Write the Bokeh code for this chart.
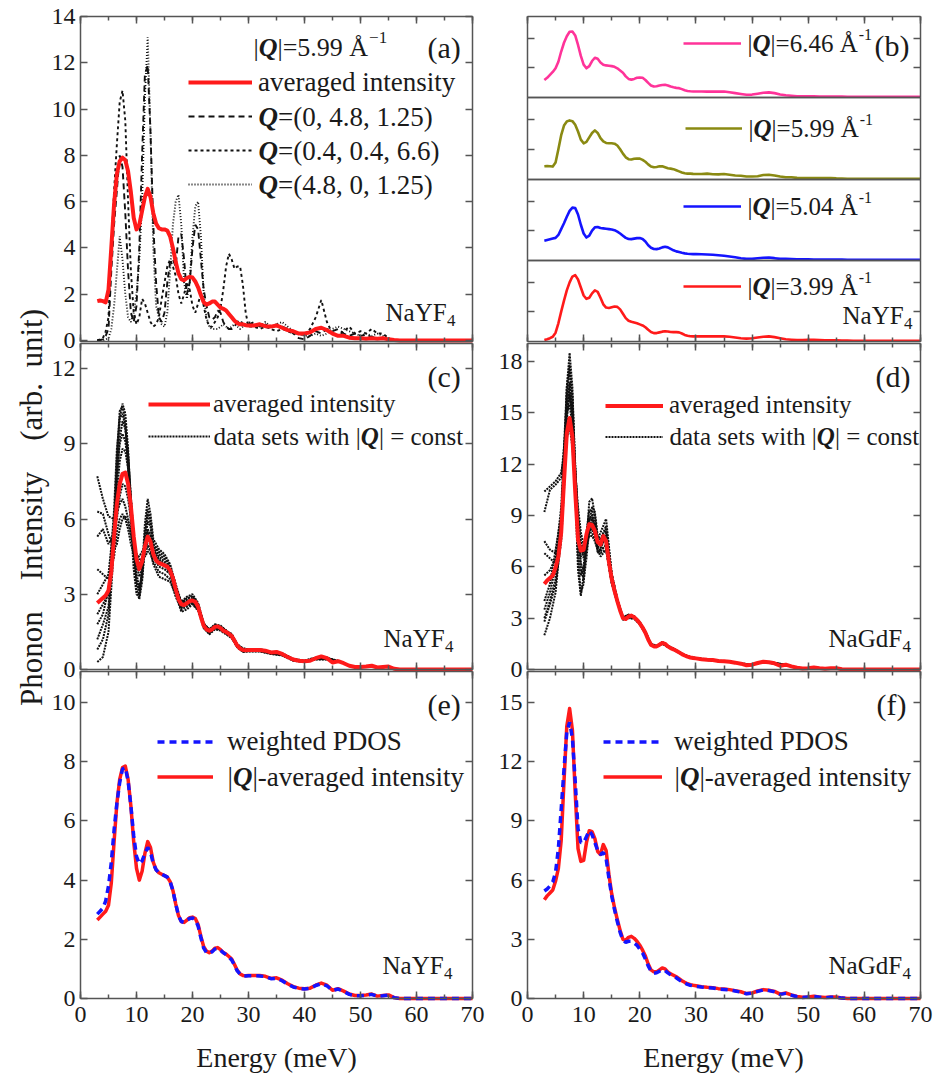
from bokeh.plotting import figure
from bokeh.models import (Range1d, LinearAxis, SingleIntervalTicker, FixedTicker,
                          Legend, LegendItem, Label, CustomJSTickFormatter)
from bokeh.core.properties import value
from bokeh.layouts import row
from bokeh.embed import file_html
from bokeh.resources import INLINE

# ---------------- data ----------------
energy = [3.0, 3.5, 4.0, 4.5, 5.0, 5.5, 6.0, 6.5, 7.0, 7.5,
          8.0, 8.5, 9.0, 9.5, 10.0, 10.5, 11.0, 11.5, 12.0, 12.5,
          13.0, 13.5, 14.0, 14.5, 15.0, 15.5, 16.0, 16.5, 17.0, 17.5,
          18.0, 18.5, 19.0, 19.5, 20.0, 20.5, 21.0, 21.5, 22.0, 22.5,
          23.0, 23.5, 24.0, 24.5, 25.0, 25.5, 26.0, 26.5, 27.0, 27.5,
          28.0, 28.5, 29.0, 29.5, 30.0,
          31, 32, 33, 34, 35, 36, 37, 38, 39, 40,
          41, 42, 43, 44, 45, 46, 47, 48, 49, 50,
          51, 52, 53, 54, 55, 56, 57, 58, 59, 60,
          65, 70]

# (a) |Q| = 5.99 averaged intensity (also olive curve in (b))
q599_avg = [1.7, 1.73, 1.7, 1.65, 2.2, 4.0, 5.9, 7.2, 7.75, 7.9,
            7.8, 7.3, 6.4, 5.3, 4.8, 5.0, 5.6, 6.2, 6.55, 6.2,
            5.5, 5.05, 4.85, 4.8, 4.8, 4.75, 4.5, 4.0, 3.4, 2.9,
            2.65, 2.6, 2.7, 2.75, 2.72, 2.55, 2.3, 1.95, 1.65, 1.55,
            1.6, 1.68, 1.68, 1.55, 1.42, 1.37, 1.3, 1.15, 1.0, 0.85,
            0.75, 0.7, 0.7, 0.66, 0.65,
            0.65, 0.70, 0.62, 0.60, 0.65, 0.55, 0.45, 0.40, 0.30, 0.30,
            0.35, 0.50, 0.55, 0.45, 0.30, 0.20, 0.20, 0.12, 0.10, 0.10,
            0.08, 0.10, 0.08, 0.10, 0.05, 0.02, 0, 0, 0, 0,
            0, 0]

q_0_48_125 = [0.0, 0.02, 0.05, 0.2, 0.5, 3.0, 5.0, 6.5, 8.0, 7.5,
              5.5, 3.0, 1.2, 0.8, 1.5, 4.0, 8.0, 11.5, 11.9, 9.0,
              5.0, 2.5, 1.0, 0.8, 1.2, 2.5, 3.4, 3.5, 3.2, 4.5,
              4.6, 3.5, 2.0, 2.5, 4.0, 5.0, 4.8, 3.5, 2.2, 1.5,
              1.0, 0.9, 1.0, 1.3, 1.2, 0.8, 0.6, 0.5, 0.5, 0.6,
              0.8, 0.9, 0.7, 0.6, 0.7,
              0.8, 0.6, 0.7, 0.5, 0.7, 0.6, 0.5, 0.3, 0.1, 0.05,
              0.2, 0.4, 0.3, 0.5, 0.4, 0.5, 0.3, 0.2, 0.3, 0.2,
              0.25, 0.15, 0.1, 0.1, 0.05, 0, 0, 0, 0, 0,
              0, 0]

q_04_04_66 = [0.0, 0.05, 0.1, 0.4, 1.0, 4.0, 6.5, 8.5, 10.3, 10.8,
              9.5, 6.0, 3.0, 1.2, 0.7, 1.0, 1.8, 1.6, 1.2, 0.8,
              0.6, 0.7, 1.0, 1.8, 2.5, 3.2, 3.5, 3.2, 2.8, 2.0,
              1.6, 2.0, 2.5, 2.2, 1.5, 1.2, 1.6, 2.0, 1.5, 0.9,
              0.6, 0.6, 0.8, 1.0, 1.4, 2.2, 3.2, 3.75, 3.5, 3.1,
              3.2, 3.2, 2.4, 1.2, 0.6,
              0.6, 0.5, 0.6, 0.5, 0.4, 0.5, 0.4, 0.3, 0.3, 0.2,
              0.5, 1.0, 1.75, 0.8, 0.3, 0.2, 0.4, 0.6, 0.3, 0.4,
              0.3, 0.5, 0.3, 0.3, 0.1, 0, 0, 0, 0, 0,
              0, 0]

q_48_0_125 = [0.0, 0.0, 0.0, 0.05, 0.1, 0.5, 1.5, 3.0, 4.5, 3.5,
              2.0, 1.0, 0.8, 1.2, 2.0, 3.5, 6.0, 10.5, 13.1, 9.0,
              4.0, 1.5, 1.0, 0.7, 0.6, 1.2, 3.0, 5.0, 6.0, 6.3,
              5.0, 2.5, 1.8, 2.5, 4.5, 5.8, 6.0, 4.5, 2.0, 1.0,
              0.6, 0.5, 0.5, 0.5, 0.6, 0.7, 0.6, 0.5, 0.6, 0.7,
              0.6, 0.5, 0.6, 0.7, 0.8,
              0.7, 0.6, 0.8, 0.6, 0.7, 0.8, 0.6, 0.4, 0.3, 0.2,
              0.2, 0.3, 0.2, 0.3, 0.5, 0.6, 0.5, 0.4, 0.3, 0.2,
              0.3, 0.2, 0.3, 0.2, 0.1, 0, 0, 0, 0, 0,
              0, 0]

# (b) other |Q| values
q646_avg = [2.3, 2.6, 3.0, 3.4, 3.9, 4.8, 6.2, 7.4, 8.3, 8.9,
            8.95, 8.4, 7.1, 5.6, 4.4, 3.9, 4.2, 4.9, 5.35, 5.2,
            4.7, 4.4, 4.3, 4.25, 4.2, 4.1, 3.9, 3.6, 3.3, 2.8,
            2.45, 2.35, 2.45, 2.6, 2.65, 2.6, 2.3, 1.9, 1.55, 1.4,
            1.45, 1.55, 1.62, 1.64, 1.55, 1.4, 1.3, 1.22, 1.18, 1.05,
            0.9, 0.8, 0.75, 0.73, 0.72,
            0.72, 0.70, 0.72, 0.70, 0.73, 0.62, 0.50, 0.38, 0.27, 0.30,
            0.42, 0.55, 0.60, 0.50, 0.30, 0.20, 0.14, 0.08, 0.06, 0.05,
            0.05, 0.04, 0.04, 0.03, 0.03, 0.02, 0.01, 0, 0, 0,
            0, 0]

q504_avg = [2.6, 2.7, 2.8, 2.9, 3.0, 3.4, 4.2, 5.0, 5.9, 6.7,
            7.15, 7.1, 6.2, 4.8, 3.6, 3.05, 3.3, 4.0, 4.45, 4.5,
            4.35, 4.3, 4.25, 4.2, 4.15, 4.05, 3.85, 3.6, 3.3, 3.0,
            2.85, 2.83, 2.9, 2.97, 2.97, 2.85, 2.5, 2.0, 1.65, 1.48,
            1.46, 1.55, 1.7, 1.78, 1.7, 1.5, 1.3, 1.15, 1.05, 0.95,
            0.88, 0.83, 0.8, 0.78, 0.78,
            0.76, 0.72, 0.68, 0.62, 0.55, 0.45, 0.35, 0.22, 0.12, 0.12,
            0.20, 0.28, 0.30, 0.22, 0.12, 0.12, 0.10, 0.06, 0.05, 0.05,
            0.04, 0.04, 0.03, 0.03, 0.02, 0.02, 0.01, 0, 0, 0,
            0, 0]

q399_avg = [0.1, 0.2, 0.35, 0.55, 1.1, 2.4, 4.0, 5.5, 6.9, 8.0,
            8.8, 9.0, 8.4, 7.3, 6.2, 5.75, 5.9, 6.5, 6.9, 6.7,
            5.9, 5.0, 4.55, 4.5, 4.6, 4.7, 4.65, 4.3, 3.7, 3.1,
            2.75, 2.6, 2.5, 2.4, 2.25, 2.1, 1.85, 1.5, 1.2, 1.05,
            1.05, 1.15, 1.25, 1.3, 1.28, 1.2, 1.18, 1.18, 1.15, 1.0,
            0.8, 0.68, 0.62, 0.6, 0.6,
            0.60, 0.62, 0.60, 0.62, 0.60, 0.55, 0.45, 0.35, 0.30, 0.35,
            0.45, 0.55, 0.60, 0.50, 0.35, 0.20, 0.15, 0.10, 0.10, 0.12,
            0.12, 0.10, 0.08, 0.06, 0.05, 0.03, 0.02, 0, 0, 0,
            0, 0]

# NaYF4 |Q|-averaged intensity (c, e) and weighted PDOS (e)
nayf4_avg = [2.65, 2.75, 2.85, 2.95, 3.15, 3.9, 5.3, 6.6, 7.4, 7.8,
             7.85, 7.4, 6.5, 5.3, 4.4, 4.0, 4.3, 4.9, 5.3, 5.1,
             4.6, 4.35, 4.25, 4.2, 4.15, 4.1, 3.95, 3.65, 3.2, 2.8,
             2.6, 2.57, 2.65, 2.73, 2.75, 2.7, 2.5, 2.1, 1.75, 1.6,
             1.55, 1.6, 1.7, 1.72, 1.65, 1.55, 1.5, 1.42, 1.33, 1.15,
             0.95, 0.83, 0.78, 0.77, 0.78,
             0.78, 0.78, 0.75, 0.68, 0.70, 0.62, 0.50, 0.40, 0.35, 0.33,
             0.35, 0.45, 0.52, 0.45, 0.28, 0.33, 0.25, 0.15, 0.10, 0.10,
             0.12, 0.15, 0.08, 0.10, 0.12, 0.03, 0, 0, 0, 0,
             0, 0]

nayf4_pdos = [2.85, 2.95, 3.05, 3.3, 3.8, 4.6, 5.7, 6.6, 7.3, 7.75,
              7.8, 7.35, 6.5, 5.5, 4.8, 4.55, 4.65, 4.9, 5.1, 4.95,
              4.55, 4.35, 4.25, 4.2, 4.15, 4.1, 3.95, 3.65, 3.2, 2.8,
              2.6, 2.57, 2.65, 2.7, 2.72, 2.65, 2.45, 2.05, 1.7, 1.55,
              1.52, 1.58, 1.67, 1.7, 1.63, 1.55, 1.48, 1.4, 1.3, 1.12,
              0.93, 0.82, 0.77, 0.76, 0.77,
              0.77, 0.76, 0.74, 0.67, 0.68, 0.60, 0.48, 0.39, 0.34, 0.32,
              0.34, 0.44, 0.50, 0.43, 0.27, 0.32, 0.24, 0.14, 0.10, 0.09,
              0.11, 0.14, 0.08, 0.09, 0.11, 0.03, 0, 0, 0, 0,
              0, 0]

# NaGdF4 |Q|-averaged intensity (d, f) and weighted PDOS (f)
nagdf4_avg = [5.0, 5.2, 5.35, 5.5, 5.95, 6.6, 8.0, 11.0, 13.8, 14.7,
              13.6, 10.4, 7.6, 6.95, 7.0, 7.9, 8.5, 8.45, 8.1, 7.45,
              7.3, 7.8, 7.5, 6.3, 5.3, 4.6, 4.0, 3.45, 3.0, 2.95,
              3.1, 3.15, 3.05, 2.9, 2.7, 2.45, 2.15, 1.75, 1.45, 1.35,
              1.35, 1.45, 1.55, 1.5, 1.35, 1.25, 1.18, 1.1, 1.0, 0.9,
              0.82, 0.75, 0.7, 0.67, 0.65,
              0.60, 0.57, 0.55, 0.50, 0.48, 0.45, 0.40, 0.34, 0.25, 0.28,
              0.38, 0.45, 0.42, 0.36, 0.22, 0.28, 0.18, 0.10, 0.06, 0.08,
              0.12, 0.08, 0.05, 0.07, 0.08, 0.02, 0, 0, 0, 0,
              0, 0]

nagdf4_pdos = [5.45, 5.55, 5.7, 5.9, 6.4, 7.6, 9.6, 11.6, 13.5, 14.0,
               13.2, 11.0, 8.6, 7.9, 7.9, 8.2, 8.5, 8.3, 7.9, 7.5,
               7.3, 7.4, 7.1, 6.1, 5.2, 4.5, 3.9, 3.35, 2.95, 2.85,
               2.9, 2.9, 2.8, 2.7, 2.5, 2.3, 2.0, 1.65, 1.38, 1.28,
               1.3, 1.38, 1.45, 1.42, 1.3, 1.2, 1.12, 1.05, 0.95, 0.86,
               0.78, 0.72, 0.67, 0.64, 0.62,
               0.58, 0.55, 0.53, 0.48, 0.46, 0.43, 0.38, 0.32, 0.24, 0.27,
               0.36, 0.43, 0.40, 0.34, 0.21, 0.26, 0.17, 0.09, 0.05, 0.07,
               0.10, 0.07, 0.04, 0.06, 0.07, 0.02, 0, 0, 0, 0,
               0, 0]

# data sets with |Q| = const (c: NaYF4, d: NaGdF4)
band_energy = [3, 4, 5, 6, 6.5, 7, 7.5, 8, 8.5, 9,
               9.5, 10, 10.5, 11, 11.5, 12, 12.5, 13, 14, 15,
               16, 17, 18, 19, 20, 21, 22, 23, 24, 25,
               26, 27, 28, 29, 30, 32, 34, 36, 38, 40,
               42, 44, 46]

nayf4_sets = [
    [7.7, 6.8, 6.1, 6.0, 6.3, 6.6, 6.8, 6.5, 6.0, 5.4,
     4.9, 4.6, 4.5, 4.7, 4.9, 5.0, 4.8, 4.5, 4.1, 4.0,
     3.8, 3.2, 2.7, 2.7, 2.8, 2.5, 1.8, 1.6, 1.75, 1.7,
     1.55, 1.35, 1.0, 0.85, 0.8, 0.82, 0.7, 0.65, 0.42, 0.35,
     0.48, 0.45, 0.35],
    [0.3, 0.5, 1.5, 5.0, 8.0, 10.0, 10.6, 10.2, 8.8, 6.6,
     4.5, 3.2, 2.8, 3.5, 5.2, 6.4, 6.0, 5.0, 4.6, 4.4,
     4.1, 3.3, 2.5, 2.8, 2.95, 2.6, 1.8, 1.5, 1.75, 1.7,
     1.5, 1.4, 0.95, 0.8, 0.78, 0.78, 0.65, 0.62, 0.38, 0.3,
     0.45, 0.48, 0.3],
    [1.2, 1.8, 2.5, 5.5, 7.5, 9.2, 9.9, 9.6, 8.5, 6.8,
     5.0, 3.8, 3.3, 3.8, 5.0, 5.9, 5.7, 4.9, 4.5, 4.3,
     4.0, 3.3, 2.55, 2.7, 2.85, 2.55, 1.75, 1.5, 1.7, 1.65,
     1.5, 1.35, 0.95, 0.75, 0.75, 0.75, 0.66, 0.6, 0.38, 0.32,
     0.44, 0.42, 0.3],
    [2.2, 2.6, 3.0, 5.2, 7.0, 8.3, 8.8, 8.7, 8.0, 6.8,
     5.3, 4.2, 3.7, 4.0, 4.9, 5.6, 5.4, 4.8, 4.4, 4.2,
     3.9, 3.15, 2.45, 2.6, 2.7, 2.45, 1.7, 1.45, 1.65, 1.6,
     1.45, 1.3, 0.9, 0.72, 0.74, 0.74, 0.64, 0.58, 0.37, 0.3,
     0.42, 0.42, 0.32],
    [4.0, 3.8, 3.6, 4.5, 5.5, 6.0, 6.2, 6.0, 5.6, 5.0,
     4.6, 4.3, 4.1, 4.3, 4.6, 4.9, 4.7, 4.2, 3.7, 3.6,
     3.5, 3.0, 2.3, 2.4, 2.6, 2.35, 1.65, 1.4, 1.6, 1.55,
     1.4, 1.25, 0.88, 0.7, 0.72, 0.72, 0.62, 0.56, 0.35, 0.3,
     0.4, 0.4, 0.3],
    [5.3, 5.6, 5.0, 5.4, 6.0, 6.9, 7.4, 7.3, 6.8, 6.0,
     5.1, 4.5, 4.2, 4.4, 4.8, 5.2, 5.1, 4.7, 4.3, 4.2,
     3.9, 3.1, 2.6, 2.75, 2.8, 2.5, 1.8, 1.6, 1.75, 1.7,
     1.55, 1.35, 0.98, 0.8, 0.8, 0.8, 0.7, 0.64, 0.42, 0.35,
     0.47, 0.46, 0.34],
    [0.8, 1.2, 2.2, 5.8, 8.5, 10.3, 10.5, 9.8, 8.0, 5.8,
     4.0, 3.0, 2.9, 4.0, 5.8, 6.8, 6.2, 5.2, 4.8, 4.6,
     4.2, 3.4, 2.7, 2.9, 3.0, 2.65, 1.85, 1.6, 1.8, 1.75,
     1.55, 1.42, 1.0, 0.82, 0.8, 0.8, 0.68, 0.63, 0.4, 0.33,
     0.46, 0.47, 0.32],
    [3.0, 3.4, 3.8, 6.0, 7.8, 9.0, 9.4, 9.1, 8.2, 6.5,
     4.8, 3.6, 3.2, 3.6, 4.8, 5.5, 5.3, 4.7, 4.35, 4.15,
     3.85, 3.1, 2.5, 2.55, 2.65, 2.4, 1.72, 1.48, 1.68, 1.62,
     1.48, 1.3, 0.92, 0.74, 0.76, 0.76, 0.66, 0.6, 0.39, 0.31,
     0.43, 0.44, 0.31],
    [1.8, 2.2, 3.2, 6.4, 8.8, 10.0, 10.2, 9.7, 8.6, 6.9,
     5.2, 3.5, 3.0, 3.9, 5.4, 6.2, 5.8, 5.0, 4.7, 4.5,
     4.15, 3.35, 2.65, 2.85, 2.9, 2.6, 1.82, 1.55, 1.78, 1.72,
     1.55, 1.38, 0.98, 0.8, 0.79, 0.8, 0.67, 0.62, 0.4, 0.32,
     0.47, 0.46, 0.33],
    [6.3, 6.2, 5.4, 4.8, 5.0, 5.6, 6.0, 6.1, 5.9, 5.4,
     4.9, 4.6, 4.4, 4.4, 4.5, 4.7, 4.6, 4.3, 3.9, 3.8,
     3.6, 2.9, 2.4, 2.5, 2.65, 2.4, 1.68, 1.45, 1.62, 1.58,
     1.42, 1.28, 0.9, 0.72, 0.73, 0.73, 0.63, 0.57, 0.36, 0.3,
     0.41, 0.41, 0.3],
]

nagdf4_sets = [
    [10.4, 10.7, 11.0, 11.5, 12.5, 14.0, 14.5, 13.5, 11.5, 9.5,
     8.0, 7.3, 7.5, 7.8, 7.8, 7.5, 7.0, 6.8, 7.0, 5.0,
     3.9, 3.0, 3.1, 3.0, 2.65, 2.1, 1.45, 1.35, 1.5, 1.35,
     1.2, 1.0, 0.82, 0.72, 0.66, 0.58, 0.5, 0.46, 0.33, 0.28,
     0.45, 0.36, 0.28],
    [9.2, 10.5, 10.8, 11.2, 13.0, 15.0, 15.5, 14.2, 11.8, 9.0,
     7.5, 7.0, 7.6, 8.2, 8.2, 7.8, 7.1, 7.0, 7.2, 5.1,
     3.95, 3.05, 3.15, 3.05, 2.7, 2.15, 1.5, 1.38, 1.55, 1.38,
     1.2, 1.02, 0.84, 0.72, 0.66, 0.58, 0.51, 0.46, 0.35, 0.29,
     0.46, 0.37, 0.29],
    [2.0, 3.0, 4.5, 8.0, 12.0, 16.5, 18.5, 16.5, 11.5, 6.5,
     4.5, 5.0, 7.5, 9.8, 10.0, 9.0, 7.6, 8.0, 8.8, 5.6,
     4.1, 3.0, 3.2, 3.1, 2.75, 2.2, 1.45, 1.32, 1.6, 1.38,
     1.2, 1.0, 0.84, 0.7, 0.66, 0.58, 0.5, 0.46, 0.34, 0.28,
     0.46, 0.36, 0.28],
    [3.0, 4.0, 5.3, 8.5, 12.5, 16.0, 17.5, 15.8, 11.0, 6.8,
     5.5, 6.0, 8.0, 9.3, 9.3, 8.5, 7.5, 7.6, 8.2, 5.5,
     4.05, 3.0, 3.15, 3.1, 2.72, 2.18, 1.47, 1.35, 1.58, 1.36,
     1.19, 1.01, 0.83, 0.71, 0.65, 0.57, 0.5, 0.45, 0.34, 0.28,
     0.45, 0.36, 0.28],
    [6.8, 6.5, 6.2, 8.2, 11.5, 14.8, 16.2, 14.8, 11.0, 7.6,
     6.6, 6.8, 7.9, 8.8, 8.7, 8.2, 7.4, 7.3, 7.6, 5.3,
     4.0, 2.95, 3.05, 3.0, 2.68, 2.12, 1.42, 1.33, 1.52, 1.33,
     1.16, 0.98, 0.8, 0.68, 0.64, 0.56, 0.49, 0.44, 0.33, 0.27,
     0.44, 0.35, 0.27],
    [4.0, 5.0, 7.0, 9.0, 11.5, 13.5, 14.2, 13.0, 10.5, 8.0,
     7.0, 6.8, 7.2, 8.0, 8.0, 7.6, 7.0, 6.6, 7.0, 5.1,
     3.9, 2.9, 3.0, 2.95, 2.65, 2.1, 1.42, 1.32, 1.5, 1.32,
     1.15, 0.97, 0.8, 0.68, 0.63, 0.55, 0.48, 0.44, 0.33, 0.27,
     0.44, 0.35, 0.27],
    [2.8, 3.8, 5.0, 7.5, 10.5, 14.5, 16.8, 15.2, 10.5, 5.8,
     4.3, 5.5, 7.2, 8.8, 9.0, 8.2, 6.8, 7.0, 8.0, 5.4,
     4.05, 3.05, 3.2, 3.08, 2.75, 2.2, 1.48, 1.36, 1.58, 1.37,
     1.2, 1.02, 0.84, 0.72, 0.66, 0.58, 0.51, 0.46, 0.34, 0.28,
     0.46, 0.37, 0.29],
    [5.5, 5.8, 6.5, 9.5, 13.0, 16.5, 17.8, 16.0, 12.0, 8.5,
     6.2, 5.8, 7.0, 8.6, 9.5, 9.2, 7.8, 7.6, 8.4, 5.6,
     4.1, 3.05, 3.2, 3.12, 2.78, 2.22, 1.5, 1.38, 1.6, 1.4,
     1.22, 1.03, 0.85, 0.73, 0.67, 0.59, 0.52, 0.47, 0.35, 0.29,
     0.47, 0.38, 0.29],
    [3.5, 4.5, 6.0, 8.8, 12.0, 15.2, 16.0, 14.5, 11.2, 8.2,
     6.0, 5.2, 6.5, 8.2, 8.9, 8.4, 7.2, 7.1, 7.8, 5.35,
     4.0, 2.98, 3.08, 3.02, 2.7, 2.15, 1.44, 1.34, 1.54, 1.35,
     1.18, 0.99, 0.81, 0.7, 0.65, 0.57, 0.5, 0.45, 0.34, 0.28,
     0.45, 0.36, 0.28],
    [7.5, 7.0, 6.8, 8.8, 12.2, 15.5, 16.6, 15.0, 11.8, 8.8,
     7.2, 6.5, 7.0, 8.0, 8.4, 8.0, 7.2, 6.9, 7.3, 5.2,
     3.98, 2.96, 3.06, 3.0, 2.68, 2.12, 1.43, 1.33, 1.52, 1.33,
     1.17, 0.98, 0.8, 0.69, 0.64, 0.56, 0.49, 0.45, 0.33, 0.27,
     0.44, 0.35, 0.27],
]

ticks_a = [0, 2, 4, 6, 8, 10, 12, 14]
ticks_c = [0, 3, 6, 9, 12]
ticks_e = [0, 2, 4, 6, 8, 10]
ticks_d = [0, 3, 6, 9, 12, 15, 18]
ticks_f = [0, 3, 6, 9, 12, 15]
ticks_b = [4, 8]

# ---------------- styling / geometry ----------------
FONT = "Liberation Serif"
TXT = "#1a1a1a"
FRAME = "#555555"
RED = "#ff1a1a"
BLUE = "#1414ff"
PINK = "#ff3399"
OLIVE = "#8a8a12"
BLACK = "#111111"

H = 1076                      # page / canvas height
LEFT_W, RIGHT_W = 497, 436    # widths of the two column canvases
RIGHT_X0 = LEFT_W             # page x where the right canvas starts

W_TIMES = {" ": 250, "\u00a0": 250, "(": 333, ")": 333, ",": 250, "-": 333, ".": 250,
           "=": 564, "|": 200, "\u00c5": 722, "\u2212": 564,
           "a": 444, "b": 500, "c": 444, "d": 500, "e": 444, "f": 333, "g": 500,
           "h": 500, "i": 278, "k": 500, "l": 278, "m": 778, "n": 500, "o": 500,
           "p": 500, "r": 333, "s": 389, "t": 278, "u": 500, "v": 500, "w": 722,
           "y": 500, "A": 722, "D": 722, "F": 556, "G": 722, "N": 722, "O": 722,
           "P": 556, "Q": 722, "S": 556, "Y": 722}


def tw(s, size):
    return sum(W_TIMES.get(ch, 500) for ch in s) * size / 1000.0


def mk_xrange(px0, px70, width):
    """0 meV at canvas column px0, 70 meV at px70"""
    s = (px70 - px0) / 70.0
    return Range1d(-px0 / s, (width - px0) / s)


def mk_range(v0, p0, v1, p1):
    """value v0 sits at page row p0, v1 at page row p1 (canvas = full page height)"""
    s = (p0 - p1) / (v1 - v0)
    return Range1d(v0 - (H - p0) / s, v1 + p1 / s), (v0, p0, s)


def val_at(m, px):
    v0, p0, s = m
    return v0 + (p0 - px) / s


def style_axis(ax, show, standoff, size="24px", ticks=True):
    ax.axis_line_color = FRAME
    ax.axis_line_width = 1.5
    ax.major_tick_in = 7 if ticks else 0
    ax.major_tick_out = 0
    ax.minor_tick_in = 4 if ticks else 0
    ax.minor_tick_out = 0
    ax.major_tick_line_color = FRAME
    ax.minor_tick_line_color = FRAME
    ax.major_tick_line_width = 1.5
    ax.minor_tick_line_width = 1.5
    if show:
        ax.major_label_text_font = FONT
        ax.major_label_text_font_size = size
        ax.major_label_text_color = TXT
        ax.major_label_standoff = standoff
    else:
        ax.major_label_text_font_size = "0px"
        ax.major_label_standoff = 0
        ax.formatter = CustomJSTickFormatter(code="return ''")


def col_fig(width, xr):
    p = figure(width=width, height=H, x_range=xr, y_range=Range1d(0, 1),
               output_backend="svg", toolbar_location=None,
               x_axis_location=None, y_axis_location=None,
               min_border_left=0, min_border_right=0,
               min_border_top=0, min_border_bottom=0)
    p.grid.visible = False
    p.outline_line_color = None
    p.background_fill_color = "white"
    p.border_fill_color = "white"
    return p


def panel_axes(p, name, m, yticks, top_px, bot_px, ylab=True, top_ticks=True,
               bot_ticks=True, xlab=False):
    vb, vt = val_at(m, bot_px), val_at(m, top_px)
    yt = FixedTicker(ticks=yticks, minor_ticks=[])
    ax = LinearAxis(y_range_name=name, ticker=yt, fixed_location=0, bounds=(vb, vt))
    style_axis(ax, ylab, 5)
    p.add_layout(ax, "left")
    ax = LinearAxis(y_range_name=name, ticker=yt, fixed_location=70, bounds=(vb, vt))
    style_axis(ax, False, 0)
    p.add_layout(ax, "right")
    xt = SingleIntervalTicker(interval=10, num_minor_ticks=2)
    ax = LinearAxis(y_range_name=name, ticker=xt, fixed_location=vt, bounds=(0, 70))
    style_axis(ax, False, 0, ticks=top_ticks)
    p.add_layout(ax, "above")
    ax = LinearAxis(y_range_name=name, ticker=xt, fixed_location=vb, bounds=(0, 70))
    style_axis(ax, xlab, 8, ticks=bot_ticks)
    p.add_layout(ax, "below")


def put(p, cx, x, y, s, size, style="normal", angle=0, align="left"):
    p.add_layout(Label(x=x - cx, y=H - y, x_units="screen", y_units="screen", text=s,
                       text_font=FONT, text_font_size=f"{size}px",
                       text_font_style=style, text_color=TXT, angle=angle,
                       text_baseline="middle", text_align=align))
    return x + tw(s, size)


def qtext(p, cx, x, y, size, before, after):
    if before:
        x = put(p, cx, x, y, before, size)
    x = put(p, cx, x, y, "Q", size, "bold italic")
    return put(p, cx, x, y, after, size)


def formula(p, cx, x, y, main, sub, size=25):
    x2 = put(p, cx, x, y, main, size)
    put(p, cx, x2 + 0.5, y + 8, sub, 17)


def add_legend(p, cx, entries, kx, ky, row_h, glyph_w, standoff, size):
    n = len(entries)
    bottom = H - (ky + (n - 0.5) * row_h)
    items = [LegendItem(label=value(lab), renderers=[r]) for r, lab in entries]
    lg = Legend(items=items, location=(kx - cx, bottom), orientation="vertical",
                glyph_width=glyph_w, glyph_height=row_h, label_height=row_h,
                label_width=10, label_standoff=standoff, padding=0, spacing=0,
                margin=0, border_line_color=None, background_fill_alpha=0,
                label_text_font=FONT, label_text_font_size=f"{size}px",
                label_text_color=TXT, label_text_baseline="middle")
    p.add_layout(lg)
    return kx + glyph_w + standoff


# ================= left column: (a), (c), (e) =================
CL = 0
pl = col_fig(LEFT_W, mk_xrange(80, 472, LEFT_W))
rng_a, m_a = mk_range(0, 340, 14, 16)
rng_c, m_c = mk_range(0, 669, 12, 368)
rng_e, m_e = mk_range(0, 998, 10, 702)
pl.extra_y_ranges = {"a": rng_a, "c": rng_c, "e": rng_e}
panel_axes(pl, "a", m_a, ticks_a, 16, 341)
panel_axes(pl, "c", m_c, ticks_c, 343, 669)
panel_axes(pl, "e", m_e, ticks_e, 671, 998, xlab=True)

put(pl, CL, 31, 507,
    "Phonon\u00a0\u00a0\u00a0\u00a0Intensity\u00a0\u00a0\u00a0\u00a0(arb.\u00a0\u00a0unit)",
    31, angle=1.5707963, align="center")
put(pl, CL, 276, 1057, "Energy (meV)", 28, align="center")

# (a)
r_q1 = pl.line(energy, q_0_48_125, y_range_name="a", line_color=BLACK, line_width=1.9, line_dash="6 4")
r_q2 = pl.line(energy, q_04_04_66, y_range_name="a", line_color=BLACK, line_width=1.9, line_dash="3 3")
r_q3 = pl.line(energy, q_48_0_125, y_range_name="a", line_color=BLACK, line_width=1.9, line_dash="1 2")
r_a = pl.line(energy, q599_avg, y_range_name="a", line_color=RED, line_width=4, line_join="round")
tx = add_legend(pl, CL, [(r_a, "averaged intensity"), (r_q1, ""), (r_q2, ""), (r_q3, "")],
                188, 82, 34, 64, 6, 27)
qtext(pl, CL, tx, 116, 27, "", "=(0, 4.8, 1.25)")
qtext(pl, CL, tx, 150, 27, "", "=(0.4, 0.4, 6.6)")
qtext(pl, CL, tx, 184, 27, "", "=(4.8, 0, 1.25)")
xe = qtext(pl, CL, 253, 47, 26, "|", "|=5.99 \u00c5")
put(pl, CL, xe + 1, 37, "\u22121", 17)
put(pl, CL, 427, 47, "(a)", 30)
formula(pl, CL, 385, 312, "NaYF", "4")

# (c)
r_cs = None
for s in nayf4_sets:
    r = pl.line(band_energy, s, y_range_name="c", line_color=BLACK, line_width=2.0, line_dash="2 1")
    r_cs = r_cs or r
r_c = pl.line(energy, nayf4_avg, y_range_name="c", line_color=RED, line_width=4, line_join="round")
tx = add_legend(pl, CL, [(r_c, "averaged intensity"), (r_cs, "")], 148, 404, 32, 62, 3, 25)
qtext(pl, CL, tx, 436, 25, "data sets with |", "| = const")
put(pl, CL, 427, 376, "(c)", 30)
formula(pl, CL, 383, 638, "NaYF", "4")

# (e)
r_e = pl.line(energy, nayf4_avg, y_range_name="e", line_color=RED, line_width=3.5, line_join="round")
r_ep = pl.line(energy, nayf4_pdos, y_range_name="e", line_color=BLUE, line_width=3.5, line_dash="7 5")
tx = add_legend(pl, CL, [(r_ep, "weighted PDOS"), (r_e, "")], 157, 741, 35, 56, 14, 27)
qtext(pl, CL, tx, 776, 27, "|", "|-averaged intensity")
put(pl, CL, 427, 704, "(e)", 30)
formula(pl, CL, 382, 965, "NaYF", "4")

# ================= right column: (b), (d), (f) =================
CR = RIGHT_X0
pr = col_fig(RIGHT_W, mk_xrange(527 - CR, 920 - CR, RIGHT_W))
b_rows = [("b1", 97, 16), ("b2", 179, 97), ("b3", 260, 179), ("b4", 341, 260)]
ranges = {}
b_maps = {}
for name, pb, pt in b_rows:
    rng, m = mk_range(-0.1, pb, 11.0, pt)
    ranges[name] = rng
    b_maps[name] = m
rng_d, m_d = mk_range(0, 669, 18, 361)
rng_f, m_f = mk_range(0, 998, 15, 702)
ranges["d"] = rng_d
ranges["f"] = rng_f
pr.extra_y_ranges = ranges

panel_axes(pr, "b1", b_maps["b1"], ticks_b, 16, 97, ylab=False, bot_ticks=False)
panel_axes(pr, "b2", b_maps["b2"], ticks_b, 97, 179, ylab=False, top_ticks=False, bot_ticks=False)
panel_axes(pr, "b3", b_maps["b3"], ticks_b, 179, 260, ylab=False, top_ticks=False, bot_ticks=False)
panel_axes(pr, "b4", b_maps["b4"], ticks_b, 260, 341, ylab=False, top_ticks=False)
panel_axes(pr, "d", m_d, ticks_d, 343, 669)
panel_axes(pr, "f", m_f, ticks_f, 671, 998, xlab=True)
put(pr, CR, 723, 1057, "Energy (meV)", 28, align="center")

b_specs = [("b1", q646_avg, PINK, "6.46", 43, 683, 58),
           ("b2", q599_avg, OLIVE, "5.99", 128, 685, 57),
           ("b3", q504_avg, BLUE, "5.04", 206, 683, 58),
           ("b4", q399_avg, RED, "3.99", 286, 683, 58)]
for name, ys, col, qv, ky, kx, kw in b_specs:
    r = pr.line(energy, ys, y_range_name=name, line_color=col, line_width=2.6, line_join="round")
    tx = add_legend(pr, CR, [(r, "")], kx, ky, 30, kw, 6, 25)
    xe = qtext(pr, CR, tx, ky, 25, "|", "|=" + qv + " \u00c5")
    put(pr, CR, xe + 1, ky - 9, "-1", 16)
put(pr, CR, 874, 45, "(b)", 30)
formula(pr, CR, 842, 315, "NaYF", "4")

# (d)
r_ds = None
for s in nagdf4_sets:
    r = pr.line(band_energy, s, y_range_name="d", line_color=BLACK, line_width=2.0, line_dash="2 1")
    r_ds = r_ds or r
r_d = pr.line(energy, nagdf4_avg, y_range_name="d", line_color=RED, line_width=4, line_join="round")
tx = add_legend(pr, CR, [(r_d, "averaged intensity"), (r_ds, "")], 605, 405, 31, 58, 6, 25)
qtext(pr, CR, tx, 436, 25, "data sets with |", "| = const")
put(pr, CR, 875, 376, "(d)", 30)
formula(pr, CR, 828, 638, "NaGdF", "4")

# (f)
r_f = pr.line(energy, nagdf4_avg, y_range_name="f", line_color=RED, line_width=3.5, line_join="round")
r_fp = pr.line(energy, nagdf4_pdos, y_range_name="f", line_color=BLUE, line_width=3.5, line_dash="7 5")
tx = add_legend(pr, CR, [(r_fp, "weighted PDOS"), (r_f, "")], 603, 741, 35, 59, 12, 27)
qtext(pr, CR, tx, 776, 27, "|", "|-averaged intensity")
put(pr, CR, 876, 704, "(f)", 30)
formula(pr, CR, 828, 965, "NaGdF", "4")

layout = row(pl, pr, spacing=0)

html = file_html(layout, INLINE, title="Phonon intensity")
html = html.replace("<head>", "<head><style>html,body{margin:0;padding:0;}</style>", 1)
open("out.html", "w").write(html)
